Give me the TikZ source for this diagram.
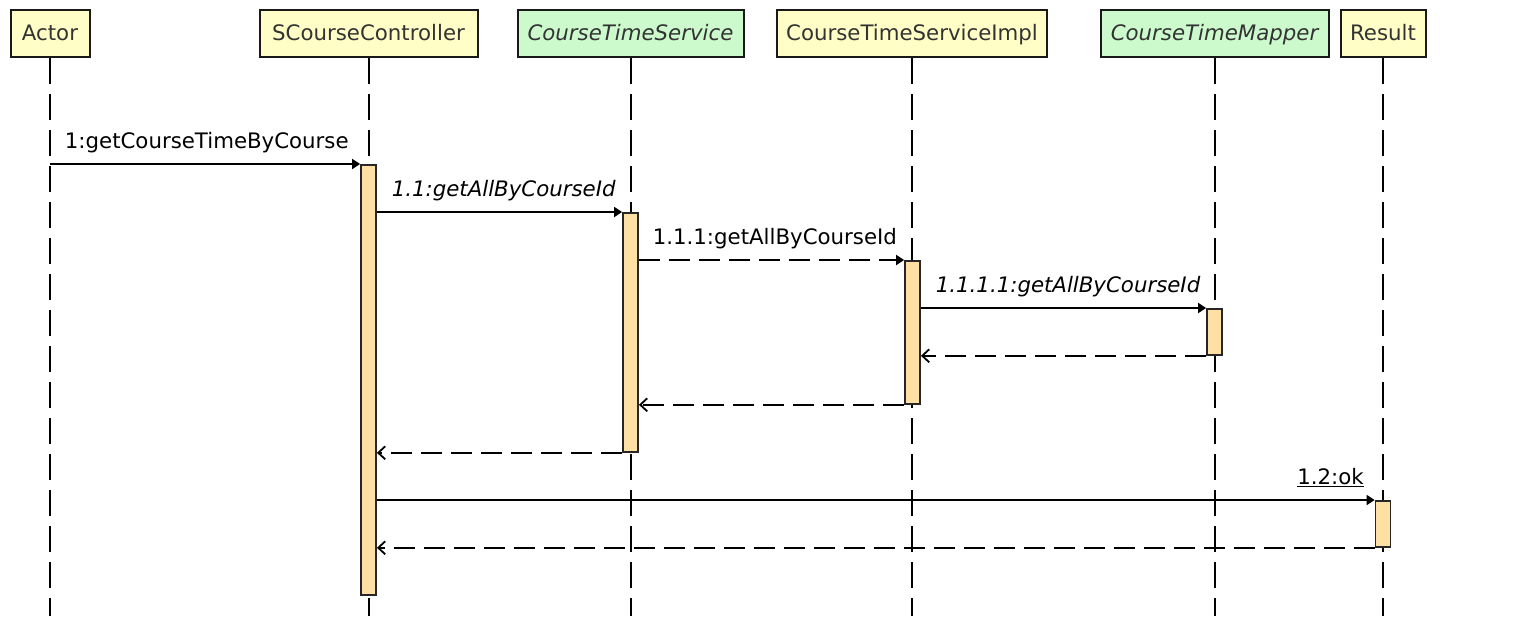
\documentclass[tikz,border=0pt]{standalone}
\usepackage{fontspec}
\setmainfont{DejaVu Sans}
\usepackage{tikz}
\usetikzlibrary{arrows.meta,calc,positioning}

\definecolor{headyellow}{HTML}{FEFEC6}
\definecolor{headgreen}{HTML}{CCFACD}
\definecolor{actfill}{HTML}{FEE0A4}
\definecolor{headtext}{HTML}{333333}
\newcommand{\seqfont}{\fontsize{21.3}{25}\selectfont}

\tikzset{
  head/.style={draw=black!90, line width=2pt, text=headtext, minimum height=47pt,
    inner sep=0pt, text height=15.5pt, text depth=1.5pt},
  cls/.style={head, fill=headyellow, font=\seqfont},
  iface/.style={head, fill=headgreen, font=\seqfont\itshape},
  life/.style={line width=2pt, dash pattern=on 26pt off 10pt},
  act/.style={draw=black!85, line width=1.8pt, fill=actfill, minimum width=15pt,
    inner sep=0pt, anchor=north},
  call/.style={line width=1.8pt, -{Triangle[length=8pt,width=10pt]}},
  ret/.style={line width=1.8pt, dash pattern=on 21pt off 9pt,
    -{Straight Barb[length=7pt,width=13pt,line width=1.8pt]}},
  lbl/.style={inner sep=0pt, font=\seqfont},
}

\begin{document}
\begin{tikzpicture}[x=1pt,y=-1pt]
  \useasboundingbox (0,0) rectangle (1522,616);
  \coordinate (bot) at (0,616);

  % participants
  \node[cls, minimum width=79pt] (p_0) at (50,33.5) {Actor};
  \node[cls, minimum width=218pt] (p_1) at (368.5,33.5) {SCourseController};
  \node[iface, minimum width=226pt] (p_2) at (630.5,33.5) {CourseTimeService};
  \node[cls, minimum width=270pt] (p_3) at (912,33.5) {CourseTimeServiceImpl};
  \node[iface, minimum width=228pt] (p_4) at (1214.5,33.5) {CourseTimeMapper};
  \node[cls, minimum width=85pt] (p_5) at (1383,33.5) {Result};

  \foreach \p in {p_0,p_1,p_2,p_3,p_4,p_5}
    \draw[life] (\p.south) -- (\p.south |- bot);

  % activations
  \node[act, minimum height=430pt] (a_1) at (368.5,164) {};
  \node[act, minimum height=239pt] (a_2) at (630.5,212) {};
  \node[act, minimum height=143pt] (a_3) at (912.5,260) {};
  \node[act, minimum height=46pt] (a_4) at (1214.5,308) {};
  \node[act, minimum height=46pt] (a_5) at (1383,500) {};

  % messages
  \draw[call] (p_0 |- a_1.north) -- node[lbl, at start, anchor=base west, xshift=14pt, yshift=16pt] {1:getCourseTimeByCourse} (a_1.north west);
  \draw[call] (a_1.east |- a_2.north) -- node[lbl, at start, anchor=base west, xshift=14pt, yshift=16pt] {\itshape 1.1:getAllByCourseId} (a_2.north west);
  \draw[call, dash pattern=on 21pt off 9pt] (a_2.east |- a_3.north) -- node[lbl, at start, anchor=base west, xshift=13pt, yshift=16pt] {1.1.1:getAllByCourseId} (a_3.north west);
  \draw[call] (a_3.east |- a_4.north) -- node[lbl, at start, anchor=base west, xshift=14pt, yshift=16pt] {\itshape 1.1.1.1:getAllByCourseId} (a_4.north west);
  \draw[ret] (a_4.south west) -- (a_3.east |- a_4.south);
  \draw[ret] (a_3.south west) -- (a_2.east |- a_3.south);
  \draw[ret] (a_2.south west) -- (a_1.east |- a_2.south);
  \draw[call] (a_1.east |- a_5.north) -- node[lbl, at end, anchor=base east, xshift=-10pt, yshift=16pt] {\underline{1.2:ok}} (a_5.north west);
  \draw[ret] (a_5.south west) -- (a_1.east |- a_5.south);
\end{tikzpicture}
\end{document}
